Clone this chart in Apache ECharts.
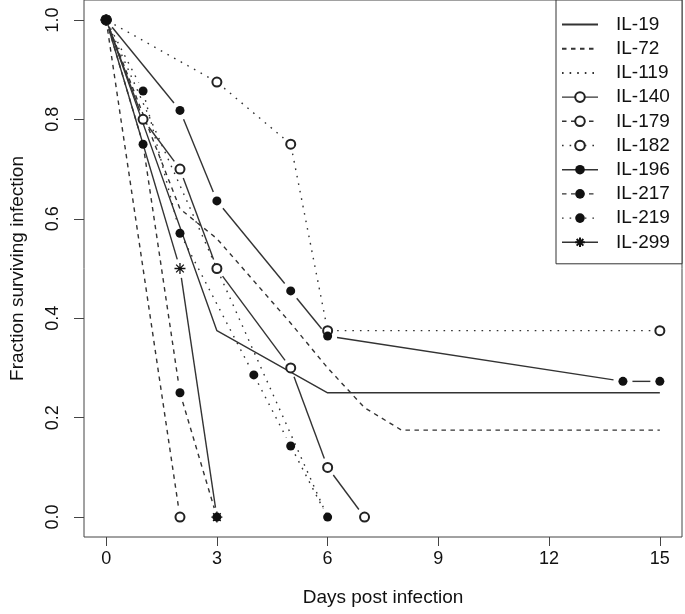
<!DOCTYPE html>
<html>
<head>
<meta charset="utf-8">
<script src="https://cdn.jsdelivr.net/npm/echarts@6/dist/echarts.min.js"></script>
<style>
html,body{margin:0;padding:0;background:#fff;}
#chart{width:685px;height:614px;}
</style>
</head>
<body>
<div id="chart"></div>
<script>
// ---- data ----
const xTicks = [0, 3, 6, 9, 12, 15];
const yTicks = [0, 0.2, 0.4, 0.6, 0.8, 1.0];
const seriesNames = ['IL-19','IL-72','IL-119','IL-140','IL-179','IL-182','IL-196','IL-217','IL-219','IL-299'];

const il19Days  = [0, 3, 6, 15];
const il19Frac  = [1, 0.375, 0.25, 0.25];
const il72Days  = [0, 2, 3, 5, 6, 7, 8, 15];
const il72Frac  = [1, 0.62, 0.56, 0.39, 0.30, 0.22, 0.175, 0.175];
const il119Days = [0, 1, 2, 3, 4, 5, 6];
const il119Frac = [1, 0.833, 0.667, 0.5, 0.333, 0.167, 0];
const il140Days = [0, 1, 2, 3, 5, 6, 7];
const il140Frac = [1, 0.8, 0.7, 0.5, 0.3, 0.1, 0];
const il179Days = [0, 2];
const il179Frac = [1, 0];
const il182Days = [0, 3, 5, 6, 15];
const il182Frac = [1, 0.875, 0.75, 0.375, 0.375];
const il196Days = [0, 2, 3, 5, 6, 14, 15];
const il196Frac = [1, 0.818, 0.636, 0.455, 0.364, 0.273, 0.273];
const il217Days = [0, 1, 2, 3];
const il217Frac = [1, 0.75, 0.25, 0];
const il219Days = [0, 1, 2, 4, 5, 6];
const il219Frac = [1, 0.857, 0.571, 0.286, 0.143, 0];
const il299Days = [0, 2, 3];
const il299Frac = [1, 0.5, 0];

// ---- styling ----
const LINE = '#333';
const LW = 1.4;
const DASH = [4.5, 4.5];
const DOT = [1.6, 6];
const GAP = 9.5;   // gap left around points on "both" (points + lines) curves
const STAR = 'path://M5,0L5,10M0,5L10,5M1.5,1.5L8.5,8.5M1.5,8.5L8.5,1.5';

function pairs(d, f){ return d.map((x,i)=>[x, f[i]]); }
function segs(d, f){
  const out = [];
  for (let i = 0; i < d.length - 1; i++) out.push([d[i], f[i], d[i+1], f[i+1]]);
  return out;
}

const series = [];
const legendData = [];

function add(name, days, frac, lineType, marker){
  if (marker === 'none') {
    series.push({
      name: name, type: 'line', data: pairs(days, frac), symbol: 'none',
      color: '#111', lineStyle: {color: LINE, width: LW, type: lineType}, z: 2
    });
    legendData.push({name: name, itemStyle: {opacity: 0}});
    return;
  }
  // line segments with gaps around the points
  series.push({
    name: name + ' segments', type: 'custom', data: segs(days, frac),
    encode: {x: [0, 2], y: [1, 3]}, silent: true, z: 1,
    renderItem: function(params, api){
      const p1 = api.coord([api.value(0), api.value(1)]);
      const p2 = api.coord([api.value(2), api.value(3)]);
      const dx = p2[0] - p1[0], dy = p2[1] - p1[1];
      const len = Math.sqrt(dx*dx + dy*dy);
      if (len <= 2 * GAP) return null;
      const ux = dx / len, uy = dy / len;
      return {
        type: 'line',
        shape: {x1: p1[0] + ux*GAP, y1: p1[1] + uy*GAP, x2: p2[0] - ux*GAP, y2: p2[1] - uy*GAP},
        style: {stroke: LINE, lineWidth: LW, lineDash: lineType === 'solid' ? null : lineType, fill: null}
      };
    }
  });
  const s = {
    name: name, type: 'line', data: pairs(days, frac), color: '#111',
    lineStyle: {color: LINE, width: LW, type: lineType, opacity: 0}, z: 3
  };
  if (marker === 'open') {
    s.symbol = 'emptyCircle'; s.symbolSize = 9;
    s.itemStyle = {color: '#222', borderColor: '#222', borderWidth: 1.7};
  } else if (marker === 'filled') {
    s.symbol = 'circle'; s.symbolSize = 9;
    s.itemStyle = {color: '#111'};
  } else if (marker === 'star') {
    s.symbol = STAR; s.symbolSize = 11;
    s.itemStyle = {color: 'none', borderColor: '#111', borderWidth: 1.3};
  }
  series.push(s);
  legendData.push({name: name, lineStyle: {opacity: 1, width: LW, color: LINE}});
}

add('IL-19',  il19Days,  il19Frac,  'solid', 'none');
add('IL-72',  il72Days,  il72Frac,  DASH,    'none');
add('IL-119', il119Days, il119Frac, DOT,     'none');
add('IL-140', il140Days, il140Frac, 'solid', 'open');
add('IL-179', il179Days, il179Frac, DASH,    'open');
add('IL-182', il182Days, il182Frac, DOT,     'open');
add('IL-196', il196Days, il196Frac, 'solid', 'filled');
add('IL-217', il217Days, il217Frac, DASH,    'filled');
add('IL-219', il219Days, il219Frac, DOT,     'filled');
add('IL-299', il299Days, il299Frac, 'solid', 'star');

const FONT = '"Liberation Sans", Arial, sans-serif';
const chart = echarts.init(document.getElementById('chart'), null, {renderer: 'canvas'});
chart.setOption({
  backgroundColor: '#fff',
  animation: false,
  textStyle: {fontFamily: FONT},
  grid: {left: 82, right: 3, top: 0, bottom: 77, show: true, borderColor: '#444', borderWidth: 1, backgroundColor: 'transparent'},
  xAxis: {
    type: 'value', min: -0.6, max: 15.6,
    name: 'Days post infection', nameLocation: 'middle', nameGap: 51,
    nameTextStyle: {fontSize: 19, color: '#111', fontFamily: FONT},
    axisLine: {show: false, onZero: false},
    splitLine: {show: false},
    axisTick: {show: true, inside: false, length: 9, customValues: xTicks, lineStyle: {color: '#444'}},
    axisLabel: {customValues: xTicks, fontSize: 18, color: '#111', margin: 13, fontFamily: FONT}
  },
  yAxis: {
    type: 'value', min: -0.04, max: 1.04,
    name: 'Fraction surviving infection', nameLocation: 'middle', nameGap: 57,
    nameTextStyle: {fontSize: 19, color: '#111', fontFamily: FONT},
    axisLine: {show: false, onZero: false},
    splitLine: {show: false},
    axisTick: {show: true, inside: false, length: 10, customValues: yTicks, lineStyle: {color: '#444'}},
    axisLabel: {customValues: yTicks, fontSize: 18, color: '#111', margin: 22, rotate: 90,
      formatter: v => Number(v).toFixed(1), fontFamily: FONT}
  },
  legend: {
    data: legendData,
    orient: 'vertical',
    left: 556, top: 0,
    padding: [15, 4, 12, 5],
    itemWidth: 36, itemHeight: 12, itemGap: 5.2,
    backgroundColor: '#fff',
    borderColor: '#333', borderWidth: 1, borderRadius: 0,
    selectedMode: false,
    textStyle: {fontSize: 19, color: '#111', padding: [0, 0, 0, 13], width: 62, lineHeight: 17, fontFamily: FONT}
  },
  series: series
});
</script>
</body>
</html>
